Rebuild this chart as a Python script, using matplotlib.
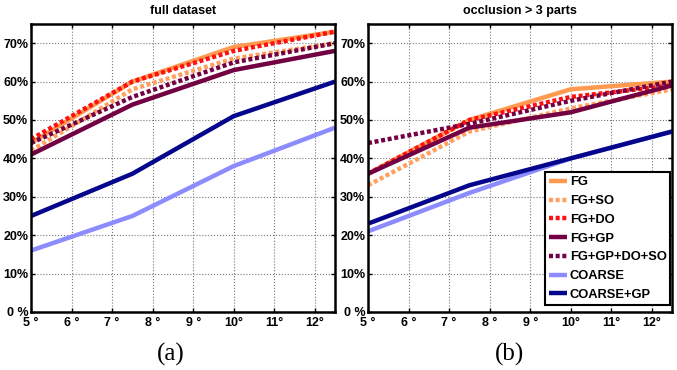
import numpy as np
import matplotlib.pyplot as plt

# threshold (degrees) at which accuracy was measured
x = [5, 7.5, 10, 12.5]

labels = ['FG', 'FG+SO', 'FG+DO', 'FG+GP', 'FG+GP+DO+SO', 'COARSE', 'COARSE+GP']

# (a) full dataset, accuracy in %
full_fg = [44, 60, 69, 73]
full_fg_so = [42, 58, 66, 70]
full_fg_do = [45, 60, 68, 73]
full_fg_gp = [41, 54, 63, 68]
full_fg_all = [44, 56, 65, 70]
full_coarse = [16, 25, 38, 48]
full_coarse_gp = [25, 36, 51, 60]

# (b) occlusion > 3 parts
occ_fg = [36, 50, 58, 60]
occ_fg_so = [33, 47, 53, 58]
occ_fg_do = [36, 50, 56, 59]
occ_fg_gp = [36, 48, 52, 59]
occ_fg_all = [44, 49, 55, 60]
occ_coarse = [21, 31, 40, 47]
occ_coarse_gp = [23, 33, 40, 47]

xticks = [5, 6, 7, 8, 9, 10, 11, 12]
xticklabels = ['5 °', '6 °', '7 °', '8 °', '9 °', '10°', '11°', '12°']
yticks = [0, 10, 20, 30, 40, 50, 60, 70]
yticklabels = ['0 %', '10%', '20%', '30%', '40%', '50%', '60%', '70%']

dot = (0, (0.9, 0.6))
styles = [
    ('#ff9a50', '-'),
    ('#ffa060', dot),
    ('#ff1010', dot),
    ('#720042', '-'),
    ('#720042', dot),
    ('#8c8cff', '-'),
    ('#06068c', '-'),
]

plt.rcParams['font.family'] = ['Liberation Sans', 'DejaVu Sans']

fig = plt.figure(figsize=(6.77, 3.70), dpi=100)
ax1 = fig.add_axes([31/677, 1-312/370, 304/677, 288/370])
ax2 = fig.add_axes([368/677, 1-312/370, 304/677, 288/370])

panels = [
    (ax1, [full_fg, full_fg_so, full_fg_do, full_fg_gp, full_fg_all, full_coarse, full_coarse_gp], 'full dataset'),
    (ax2, [occ_fg, occ_fg_so, occ_fg_do, occ_fg_gp, occ_fg_all, occ_coarse, occ_coarse_gp], 'occlusion > 3 parts'),
]

for ax, series, title in panels:
    for vals, lab, (c, ls) in zip(series, labels, styles):
        ax.plot(x, vals, color=c, linestyle=ls, lw=3.2, label=lab, solid_capstyle='butt', dash_capstyle='butt')
    ax.set_xlim(5, 12.5)
    ax.set_ylim(0, 75)
    ax.set_xticks(xticks)
    ax.set_xticklabels(xticklabels, fontweight='bold', fontsize=9)
    ax.set_yticks(yticks)
    ax.set_yticklabels(yticklabels, fontweight='bold', fontsize=9)
    ax.tick_params(direction='in', length=3, width=1, top=True, right=True)
    ax.tick_params(axis='x', pad=3.5)
    ax.tick_params(axis='y', pad=2)
    ax.grid(True, linestyle=':', color='#777777', linewidth=0.8)
    for s in ax.spines.values():
        s.set_linewidth(1.8)
    ax.set_title(title, fontsize=9, fontweight='bold', pad=7)

leg = ax2.legend(loc='lower right', bbox_to_anchor=(0.995, 0.025), prop={'weight': 'bold', 'size': 9.3},
                 handlelength=1.4, handletextpad=0.2, labelspacing=0.52, borderpad=0.3,
                 borderaxespad=0, fancybox=False, framealpha=1)
leg.get_frame().set_edgecolor('black')
leg.get_frame().set_linewidth(1.5)

fig.text(171/677, 1-354/370, '(a)', family='Liberation Serif', fontsize=18, ha='center', va='center')
fig.text(510/677, 1-354/370, '(b)', family='Liberation Serif', fontsize=18, ha='center', va='center')

plt.savefig('out.png', dpi=100)
